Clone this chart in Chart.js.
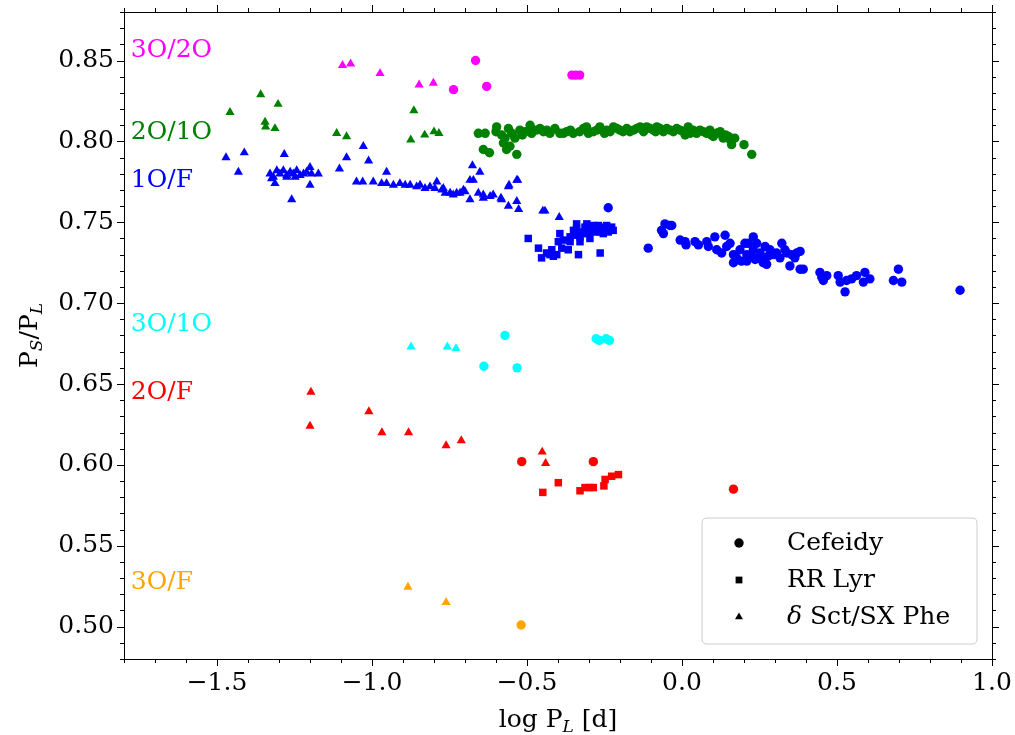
<!DOCTYPE html>
<html>
<head>
<meta charset="utf-8">
<script src="https://cdn.jsdelivr.net/npm/chart.js@4.4.0/dist/chart.umd.min.js"></script>
<style>
html,body{margin:0;padding:0;background:#fff;}
#wrap{width:1015px;height:735px;position:relative;}
</style>
</head>
<body>
<div id="wrap"><canvas id="c" width="1015" height="735"></canvas></div>
<script>
// ---------- tick labels ----------
const xTickValues = [-1.5, -1.0, -0.5, 0.0, 0.5, 1.0];
const xTickLabels = ["\u22121.5", "\u22121.0", "\u22120.5", "0.0", "0.5", "1.0"];
const yTickValues = [0.50, 0.55, 0.60, 0.65, 0.70, 0.75, 0.80, 0.85];
const yTickLabels = ["0.50", "0.55", "0.60", "0.65", "0.70", "0.75", "0.80", "0.85"];

// ---------- mode labels ----------
const modeNames  = ["3O/2O", "2O/1O", "1O/F", "3O/1O", "2O/F", "3O/F"];
const modeLabelY = [0.8565, 0.8058, 0.776, 0.6865, 0.645, 0.527];
const legendNames = ["Cefeidy", "RR Lyr", "\u03b4 Sct/SX Phe"];

// ---------- 3O/2O ----------
const o32_cep_logP  = [-0.666, -0.737, -0.630, -0.355, -0.343, -0.330];
const o32_cep_ratio = [0.850, 0.832, 0.834, 0.841, 0.841, 0.841];
const o32_dsct_logP  = [-1.095, -1.069, -0.974, -0.848, -0.802];
const o32_dsct_ratio = [0.847, 0.848, 0.842, 0.835, 0.836];

// ---------- 2O/1O ----------
const o21_dsct_logP  = [-1.458, -1.359, -1.303, -1.345, -1.343, -1.313, -1.114, -1.082, -0.865, -0.875, -0.830, -0.800, -0.784];
const o21_dsct_ratio = [0.818, 0.829, 0.823, 0.812, 0.809, 0.808, 0.805, 0.803, 0.819, 0.801, 0.804, 0.806, 0.805];
const o21_cep_logP = [-0.657, -0.635, -0.598, -0.582, -0.560, -0.549, -0.523, -0.490, -0.485, -0.458, -0.447, -0.426, -0.410, -0.394,
  -0.383, -0.351, -0.318, -0.308, -0.302, -0.286, -0.265, -0.243, -0.221, -0.200, -0.178, -0.157, -0.135, -0.114, -0.092, -0.071,
  -0.049, -0.028, -0.006, 0.020, 0.026, 0.047, 0.069, 0.090, 0.101, 0.123, 0.133, 0.155, 0.160, 0.200, 0.225,
  -0.641, -0.621, -0.576, -0.566, -0.555, -0.533, -0.539, -0.571,
  -0.372, -0.330, -0.275, -0.232, -0.210, -0.168, -0.146, -0.124, -0.103, -0.081, -0.060, -0.038, -0.017, 0.005, 0.036, 0.058,
  0.080, 0.112, 0.140, 0.170, -0.505, -0.470, -0.436, -0.600, -0.515, -0.360, -0.250, -0.190, -0.085, 0.010, 0.095, 0.150];
const o21_cep_ratio = [0.805, 0.805, 0.809, 0.804, 0.808, 0.805, 0.807, 0.810, 0.805, 0.808, 0.806, 0.805, 0.808, 0.805,
  0.805, 0.805, 0.808, 0.809, 0.805, 0.806, 0.809, 0.807, 0.809, 0.807, 0.808, 0.807, 0.809, 0.809, 0.807, 0.808,
  0.808, 0.806, 0.807, 0.809, 0.805, 0.805, 0.806, 0.807, 0.803, 0.806, 0.802, 0.801, 0.798, 0.798, 0.792,
  0.795, 0.793, 0.799, 0.795, 0.797, 0.792, 0.802, 0.802,
  0.806, 0.806, 0.807, 0.806, 0.808, 0.806, 0.808, 0.806, 0.808, 0.809, 0.806, 0.807, 0.808, 0.806, 0.807, 0.807,
  0.805, 0.805, 0.804, 0.802, 0.806, 0.807, 0.807, 0.806, 0.804, 0.807, 0.805, 0.806, 0.806, 0.804, 0.804, 0.803];

// ---------- 1O/F ----------
const o1f_dsct_logP = [-1.471, -1.412, -1.431, -1.283, -1.259,
  -1.329, -1.318, -1.307, -1.297, -1.286, -1.275, -1.264, -1.254, -1.243, -1.232, -1.221, -1.211, -1.200, -1.195, -1.200, -1.173, -1.313, -1.275, -1.248, -1.324,
  -1.105, -1.082, -1.028, -1.011, -0.953, -1.050, -1.030,
  -0.996, -0.969, -0.953, -0.931, -0.910, -0.893, -0.877, -0.856, -0.845, -0.829, -0.813, -0.791, -0.797, -0.775, -0.764, -0.748,
  -0.738, -0.716, -0.700, -0.684, -0.673, -0.652, -0.676, -0.657, -0.641, -0.619, -0.609, -0.582, -0.560, -0.560, -0.533, -0.533,
  -0.684, -0.558, -0.530, -0.584, -0.449, -0.442, -0.396, -0.527,
  -0.770, -0.727, -0.705, -0.641];
const o1f_dsct_ratio = [0.790, 0.793, 0.781, 0.792, 0.764,
  0.780, 0.778, 0.782, 0.780, 0.782, 0.779, 0.781, 0.780, 0.782, 0.779, 0.780, 0.781, 0.784, 0.780, 0.773, 0.780, 0.774, 0.778, 0.778, 0.777,
  0.783, 0.790, 0.797, 0.788, 0.781, 0.775, 0.775,
  0.775, 0.774, 0.774, 0.773, 0.774, 0.773, 0.773, 0.772, 0.773, 0.771, 0.772, 0.775, 0.771, 0.770, 0.768, 0.768,
  0.767, 0.768, 0.769, 0.764, 0.776, 0.781, 0.785, 0.768, 0.767, 0.766, 0.767, 0.764, 0.772, 0.760, 0.776, 0.763,
  0.776, 0.773, 0.776, 0.765, 0.757, 0.757, 0.753, 0.758,
  0.771, 0.768, 0.770, 0.765];
const o1f_rrl_logP = [-0.496, -0.463, -0.453, -0.437, -0.420, -0.415, -0.404, -0.394, -0.399, -0.383, -0.367, -0.361, -0.350, -0.340,
  -0.334, -0.329, -0.324, -0.313, -0.302, -0.297, -0.286, -0.275, -0.264, -0.259, -0.243, -0.232, -0.227, -0.361, -0.345, -0.318,
  -0.291, -0.270, -0.248, -0.238, -0.388, -0.426, -0.340, -0.307, -0.281, -0.254, -0.222, -0.329, -0.297, -0.264];
const o1f_rrl_ratio = [0.740, 0.734, 0.728, 0.731, 0.733, 0.729, 0.730, 0.743, 0.738, 0.739, 0.733, 0.741, 0.745, 0.749,
  0.730, 0.738, 0.743, 0.747, 0.743, 0.740, 0.748, 0.745, 0.731, 0.747, 0.748, 0.746, 0.747, 0.738, 0.742, 0.744,
  0.745, 0.748, 0.745, 0.744, 0.734, 0.730, 0.746, 0.749, 0.744, 0.743, 0.745, 0.741, 0.747, 0.744];
const o1f_cep_logP = [-0.238, -0.109, -0.066, -0.055, -0.060, -0.039, -0.033, -0.006, 0.013, 0.010, 0.042, 0.053, 0.080, 0.085,
  0.106, 0.112, 0.128, 0.139, 0.144, 0.155, 0.166, 0.166, 0.176, 0.192, 0.203, 0.214, 0.230, 0.230, 0.236, 0.241, 0.252,
  0.262, 0.268, 0.273, 0.284, 0.295, 0.322, 0.332, 0.338, 0.348, 0.354, 0.370, 0.381, 0.391, 0.381, 0.445, 0.451, 0.467,
  0.456, 0.504, 0.510, 0.526, 0.531, 0.547, 0.563, 0.585, 0.590, 0.606, 0.682, 0.698, 0.709, 0.897,
  0.187, 0.209, 0.225, 0.246, 0.278, 0.305, 0.316, 0.364, 0.209, 0.257];
const o1f_cep_ratio = [0.759, 0.734, 0.745, 0.749, 0.743, 0.748, 0.748, 0.739, 0.736, 0.738, 0.738, 0.736, 0.738, 0.735,
  0.741, 0.733, 0.731, 0.742, 0.735, 0.737, 0.730, 0.725, 0.728, 0.726, 0.737, 0.737, 0.741, 0.733, 0.727, 0.737, 0.731,
  0.725, 0.735, 0.724, 0.733, 0.730, 0.737, 0.733, 0.731, 0.723, 0.730, 0.731, 0.732, 0.721, 0.721, 0.719, 0.716, 0.717,
  0.714, 0.717, 0.713, 0.707, 0.714, 0.715, 0.717, 0.713, 0.719, 0.715, 0.714, 0.721, 0.713, 0.708,
  0.733, 0.730, 0.729, 0.728, 0.729, 0.731, 0.728, 0.728, 0.726, 0.727];

// ---------- 3O/1O ----------
const o31_dsct_logP  = [-0.874, -0.757, -0.729];
const o31_dsct_ratio = [0.673, 0.673, 0.672];
const o31_cep_logP  = [-0.571, -0.639, -0.532, -0.277, -0.267, -0.245, -0.234];
const o31_cep_ratio = [0.680, 0.661, 0.660, 0.678, 0.677, 0.678, 0.677];

// ---------- 2O/F ----------
const o2f_dsct_logP  = [-1.197, -1.200, -1.010, -0.968, -0.882, -0.761, -0.712, -0.451, -0.440];
const o2f_dsct_ratio = [0.645, 0.624, 0.633, 0.620, 0.620, 0.612, 0.615, 0.608, 0.601];
const o2f_cep_logP  = [-0.517, -0.286, 0.166];
const o2f_cep_ratio = [0.602, 0.602, 0.585];
const o2f_rrl_logP  = [-0.449, -0.399, -0.329, -0.313, -0.297, -0.286, -0.252, -0.248, -0.227, -0.205];
const o2f_rrl_ratio = [0.583, 0.589, 0.584, 0.586, 0.586, 0.586, 0.587, 0.591, 0.593, 0.594];

// ---------- 3O/F ----------
const o3f_dsct_logP  = [-0.884, -0.761];
const o3f_dsct_ratio = [0.5245, 0.515];
const o3f_cep_logP  = [-0.519];
const o3f_cep_ratio = [0.501];

// ---------- styling ----------
const FONT = "'DejaVu Serif', serif";
const COL = {o32: '#ff00ff', o21: '#008000', o1f: '#0000ff', o31: '#00ffff', o2f: '#ff0000', o3f: '#ffa500'};
const modeColors = [COL.o32, COL.o21, COL.o1f, COL.o31, COL.o2f, COL.o3f];
const STYLE = {cep: ['circle', 4.7], rrl: ['rect', 5.3], dsct: ['triangle', 5.3]};

function pts(xs, ys) { return xs.map((x, i) => ({x: x, y: ys[i]})); }
function ds(xs, ys, color, kind) {
  return {
    data: pts(xs, ys), backgroundColor: color, borderColor: color,
    pointStyle: STYLE[kind][0], pointRadius: STYLE[kind][1], pointBorderWidth: 0,
    pointHoverRadius: STYLE[kind][1], showLine: false
  };
}

const datasets = [
  ds(o1f_dsct_logP, o1f_dsct_ratio, COL.o1f, 'dsct'),
  ds(o1f_rrl_logP, o1f_rrl_ratio, COL.o1f, 'rrl'),
  ds(o1f_cep_logP, o1f_cep_ratio, COL.o1f, 'cep'),
  ds(o21_dsct_logP, o21_dsct_ratio, COL.o21, 'dsct'),
  ds(o21_cep_logP, o21_cep_ratio, COL.o21, 'cep'),
  ds(o32_dsct_logP, o32_dsct_ratio, COL.o32, 'dsct'),
  ds(o32_cep_logP, o32_cep_ratio, COL.o32, 'cep'),
  ds(o31_dsct_logP, o31_dsct_ratio, COL.o31, 'dsct'),
  ds(o31_cep_logP, o31_cep_ratio, COL.o31, 'cep'),
  ds(o2f_dsct_logP, o2f_dsct_ratio, COL.o2f, 'dsct'),
  ds(o2f_cep_logP, o2f_cep_ratio, COL.o2f, 'cep'),
  ds(o2f_rrl_logP, o2f_rrl_ratio, COL.o2f, 'rrl'),
  ds(o3f_dsct_logP, o3f_dsct_ratio, COL.o3f, 'dsct'),
  ds(o3f_cep_logP, o3f_cep_ratio, COL.o3f, 'cep')
];

// ---------- decorations plugin ----------
const deco = {
  id: 'deco',
  afterDatasetsDraw(chart) {
    const ctx = chart.ctx;
    const xs = chart.scales.x, ys = chart.scales.y;
    ctx.save();
    ctx.font = '25px ' + FONT;
    ctx.textAlign = 'left'; ctx.textBaseline = 'middle';
    modeNames.forEach((n, i) => {
      ctx.fillStyle = modeColors[i];
      ctx.fillText(n, xs.getPixelForValue(-1.778), ys.getPixelForValue(modeLabelY[i]));
    });
    ctx.restore();
  },
  afterDraw(chart) {
    const ctx = chart.ctx, a = chart.chartArea;
    const xs = chart.scales.x, ys = chart.scales.y;
    ctx.save();
    ctx.strokeStyle = '#000'; ctx.lineWidth = 1;
    ctx.strokeRect(Math.round(a.left) + 0.5, Math.round(a.top) + 0.5, Math.round(a.right - a.left), Math.round(a.bottom - a.top));
    for (let k = -18; k <= 10; k++) {
      const v = k / 10, px = Math.round(xs.getPixelForValue(v)) + 0.5;
      const L = (k % 5 === 0) ? 7 : 4;
      ctx.beginPath();
      ctx.moveTo(px, a.bottom); ctx.lineTo(px, a.bottom + L);
      ctx.moveTo(px, a.top); ctx.lineTo(px, a.top - L);
      ctx.stroke();
    }
    for (let k = 48; k <= 88; k++) {
      const v = k / 100, py = Math.round(ys.getPixelForValue(v)) + 0.5;
      const L = (k % 5 === 0) ? 7 : 4;
      ctx.beginPath();
      ctx.moveTo(a.left, py); ctx.lineTo(a.left - L, py);
      ctx.moveTo(a.right, py); ctx.lineTo(a.right + L, py);
      ctx.stroke();
    }
    ctx.fillStyle = '#000';
    ctx.textBaseline = 'alphabetic';
    const cx = (a.left + a.right) / 2, ty = 727;
    const f = '25px ' + FONT, fs = 'italic 17px ' + FONT;
    ctx.font = f; const w1 = ctx.measureText('log P').width;
    ctx.font = fs; const w2 = ctx.measureText('L').width;
    ctx.font = f; const w3 = ctx.measureText(' [d]').width;
    let sx = cx - (w1 + w2 + w3) / 2;
    ctx.textAlign = 'left';
    ctx.font = f; ctx.fillText('log P', sx, ty);
    ctx.font = fs; ctx.fillText('L', sx + w1, ty + 5);
    ctx.font = f; ctx.fillText(' [d]', sx + w1 + w2, ty);
    ctx.save();
    ctx.translate(37, (a.top + a.bottom) / 2);
    ctx.rotate(-Math.PI / 2);
    const parts = [['P', f, 0], ['S', fs, 5], ['/P', f, 0], ['L', fs, 5]];
    let tw = 0;
    parts.forEach(p => { ctx.font = p[1]; p.push(ctx.measureText(p[0]).width); tw += p[3]; });
    let ox = -tw / 2;
    parts.forEach(p => { ctx.font = p[1]; ctx.fillText(p[0], ox, p[2]); ox += p[3]; });
    ctx.restore();
    // legend
    const lx = 702, ly = 518, lw = 275, lh = 126, r = 5;
    ctx.beginPath();
    ctx.moveTo(lx + r, ly); ctx.lineTo(lx + lw - r, ly); ctx.quadraticCurveTo(lx + lw, ly, lx + lw, ly + r);
    ctx.lineTo(lx + lw, ly + lh - r); ctx.quadraticCurveTo(lx + lw, ly + lh, lx + lw - r, ly + lh);
    ctx.lineTo(lx + r, ly + lh); ctx.quadraticCurveTo(lx, ly + lh, lx, ly + lh - r);
    ctx.lineTo(lx, ly + r); ctx.quadraticCurveTo(lx, ly, lx + r, ly);
    ctx.closePath();
    ctx.fillStyle = 'rgba(255,255,255,0.8)'; ctx.fill();
    ctx.strokeStyle = '#cccccc'; ctx.lineWidth = 1; ctx.stroke();
    const kinds = ['cep', 'rrl', 'dsct'];
    const rowsY = [543, 580, 617];
    kinds.forEach((k, i) => {
      ctx.fillStyle = '#000'; ctx.strokeStyle = '#000';
      const rad = k === 'cep' ? 4.7 : (k === 'rrl' ? 4.8 : 4.6);
      Chart.helpers.drawPoint(ctx, {pointStyle: STYLE[k][0], radius: rad, borderWidth: 0, rotation: 0}, 739, rowsY[i]);
      ctx.fillStyle = '#000';
      ctx.textBaseline = 'middle'; ctx.textAlign = 'left';
      if (i === 2) {
        ctx.font = 'italic 25px ' + FONT;
        ctx.fillText('\u03b4', 787, rowsY[i]);
        const dw = ctx.measureText('\u03b4').width;
        ctx.font = '25px ' + FONT;
        ctx.fillText(' Sct/SX Phe', 787 + dw, rowsY[i]);
      } else {
        ctx.font = '25px ' + FONT;
        ctx.fillText(legendNames[i], 787, rowsY[i]);
      }
    });
    ctx.restore();
  }
};

new Chart(document.getElementById('c'), {
  type: 'scatter',
  data: {datasets: datasets},
  options: {
    responsive: false,
    animation: false,
    events: [],
    layout: {padding: {top: 12, right: 23, left: 0, bottom: 0}},
    plugins: {legend: {display: false}, tooltip: {enabled: false}},
    scales: {
      x: {
        type: 'linear', position: 'bottom', min: -1.8, max: 1.0,
        afterBuildTicks: s => { s.ticks = xTickValues.map(v => ({value: v})); },
        afterFit: s => { s.height = 76; s.paddingLeft = 0; s.paddingRight = 0; },
        ticks: {
          color: '#000', font: {family: FONT, size: 25}, padding: 9, maxRotation: 0, autoSkip: false,
          callback: (v) => { const i = xTickValues.findIndex(t => Math.abs(t - v) < 1e-9); return i >= 0 ? xTickLabels[i] : ''; }
        },
        grid: {drawOnChartArea: false, drawTicks: false, tickLength: 7},
        border: {display: false}
      },
      y: {
        type: 'linear', position: 'left', min: 0.48, max: 0.88,
        afterBuildTicks: s => { s.ticks = yTickValues.map(v => ({value: v})); },
        afterFit: s => { s.width = 124; s.paddingTop = 0; s.paddingBottom = 0; },
        ticks: {
          color: '#000', font: {family: FONT, size: 25}, padding: 10, autoSkip: false,
          callback: (v) => { const i = yTickValues.findIndex(t => Math.abs(t - v) < 1e-9); return i >= 0 ? yTickLabels[i] : ''; }
        },
        grid: {drawOnChartArea: false, drawTicks: false, tickLength: 7},
        border: {display: false}
      }
    }
  },
  plugins: [deco]
});
</script>
</body>
</html>
